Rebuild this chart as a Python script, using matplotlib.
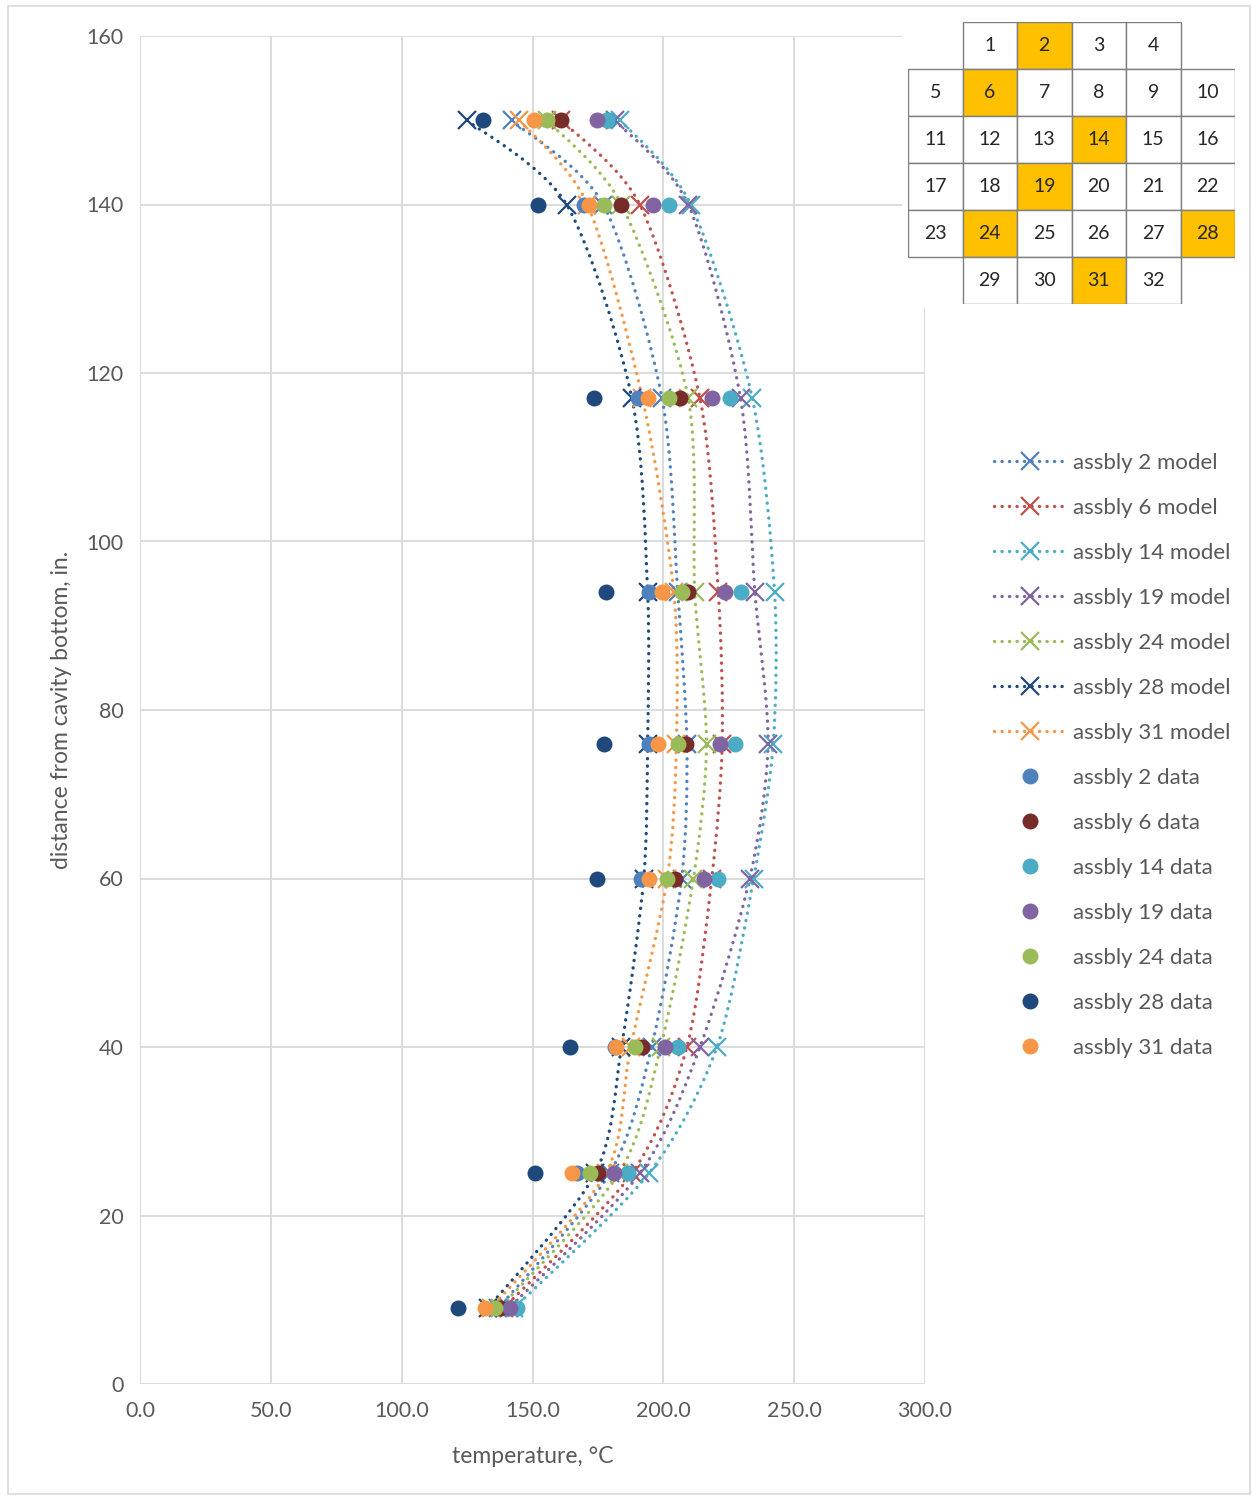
import matplotlib
matplotlib.use("Agg")
import matplotlib.pyplot as plt
from matplotlib.path import Path
from matplotlib.patches import PathPatch, Rectangle
from matplotlib.lines import Line2D

plt.rcParams['font.family'] = ['Lato', 'DejaVu Sans']

# distance from cavity bottom (in.)
heights = [150, 140, 117, 94, 76, 60, 40, 25, 9]

assemblies = ['2', '6', '14', '19', '24', '28', '31']

model_2 = [142, 177, 199.5, 205.5, 209, 207, 195.5, 179.5, 137]
model_6 = [161, 191, 214, 221, 222.5, 218.5, 209, 188, 139]
model_14 = [183.5, 210.5, 234, 242.5, 242, 234.5, 220.5, 194.5, 143]
model_19 = [181.5, 209.5, 229.5, 235, 240, 233, 214, 191, 141]
model_24 = [155.5, 184, 209.5, 212, 216.5, 211.5, 199, 183, 137.5]
model_28 = [125, 163, 188, 194, 194, 192.5, 184, 174, 133]
model_31 = [145, 171, 192, 204, 205, 201.5, 187.5, 178, 134]

data_2 = [179, 169.5, 190.5, 194.5, 194.5, 191.5, 181.5, 167, 140]
data_6 = [161, 184, 206.5, 209.5, 208.5, 204.5, 192, 175, 137.5]
data_14 = [178.5, 202, 225.5, 229.5, 227.5, 221, 205.5, 186.5, 144]
data_19 = [174.5, 196, 218.5, 223.5, 221.5, 215.5, 200.5, 181, 141.5]
data_24 = [155.5, 177.5, 202, 207, 205.5, 201.5, 189, 172, 135.5]
data_28 = [131, 152, 173.5, 178, 177.5, 174.5, 164.5, 151, 121.5]
data_31 = [150.5, 171.5, 194, 199.5, 198, 194.5, 182, 165, 132]

models = [model_2, model_6, model_14, model_19, model_24, model_28, model_31]
datas = [data_2, data_6, data_14, data_19, data_24, data_28, data_31]

model_colors = ['#4F81BD', '#C0504D', '#4BACC6', '#8064A2', '#9BBB59', '#1F497D', '#F79646']
data_colors = ['#4F81BD', '#772C2A', '#4BACC6', '#8064A2', '#9BBB59', '#1F497D', '#F79646']

# core map (row by row), highlighted assemblies
core_rows = [[1, 2, 3, 4], [5, 6, 7, 8, 9, 10], [11, 12, 13, 14, 15, 16],
             [17, 18, 19, 20, 21, 22], [23, 24, 25, 26, 27, 28], [29, 30, 31, 32]]
highlight = [2, 6, 14, 19, 24, 28, 31]

TXT = '#595959'
GRID = '#D9D9D9'


def smooth_path(xs, ys, k=0.14):
    # excel-like smoothed line: catmull-rom segments as cubic bezier
    pts = list(zip(xs, ys))
    n = len(pts)
    verts = [pts[0]]
    codes = [Path.MOVETO]
    for i in range(n - 1):
        p0 = pts[i - 1] if i > 0 else pts[i]
        p1 = pts[i]
        p2 = pts[i + 1]
        p3 = pts[i + 2] if i + 2 < n else pts[i + 1]
        c1 = (p1[0] + (p2[0] - p0[0]) * k, p1[1] + (p2[1] - p0[1]) * k)
        c2 = (p2[0] - (p3[0] - p1[0]) * k, p2[1] - (p3[1] - p1[1]) * k)
        verts += [c1, c2, p2]
        codes += [Path.CURVE4] * 3
    return Path(verts, codes)


W, H = 1252, 1496
fig = plt.figure(figsize=(W / 100, H / 100), dpi=100)
ax = fig.add_axes([140 / W, 1 - 1384 / H, (925 - 140) / W, (1384 - 36) / H])

LW = 2.4
dots = (0, (0.05, 2.2))
for name, vals, col in zip(assemblies, models, model_colors):
    patch = PathPatch(smooth_path(vals, heights), fill=False, edgecolor=col,
                      lw=LW, linestyle=dots, capstyle='round', zorder=3)
    ax.add_patch(patch)
    ax.plot(vals, heights, ls='none', marker='x', ms=13, mew=1.6, color=col, zorder=4)

for name, vals, col in zip(assemblies, datas, data_colors):
    ax.plot(vals, heights, ls='none', marker='o', ms=11.5, color=col, mew=0, zorder=5)

ax.set_xlim(0, 300)
ax.set_ylim(0, 160)
ax.set_xticks(range(0, 301, 50))
ax.set_xticklabels(['%.1f' % v for v in range(0, 301, 50)])
ax.set_yticks(range(0, 161, 20))
ax.tick_params(length=0, labelsize=15.5, labelcolor=TXT, pad=12)
ax.grid(True, color=GRID, lw=1.3)
ax.set_axisbelow(True)
for s in ax.spines.values():
    s.set_visible(False)
ax.set_xlabel('temperature, °C', fontsize=16.5, color=TXT, labelpad=18)
ax.set_ylabel('distance from cavity bottom, in.', fontsize=16.5, color=TXT, labelpad=10)

# legend
handles = []
labels = []
for name, col in zip(assemblies, model_colors):
    handles.append(Line2D([], [], color=col, lw=LW, linestyle=dots, dash_capstyle='round',
                          marker='x', ms=13, mew=1.6))
    labels.append('assbly %s model' % name)
for name, col in zip(assemblies, data_colors):
    handles.append(Line2D([], [], color=col, ls='none', marker='o', ms=11.5, mew=0))
    labels.append('assbly %s data' % name)
leg = fig.legend(handles, labels, loc='upper left', bbox_to_anchor=(994 / W, 1 - 453 / H),
                 frameon=False, fontsize=16, handlelength=3.2, labelspacing=1.125,
                 handletextpad=0.35, borderaxespad=0, borderpad=0)
for t in leg.get_texts():
    t.set_color(TXT)

# white background of the core map picture
fig.add_artist(Rectangle((902 / W, 1 - 308 / H), (1242 - 902) / W, (308 - 14) / H,
                         transform=fig.transFigure, facecolor='white', edgecolor='none', zorder=1))

tab = fig.add_axes([908 / W, 1 - 304 / H, (1235 - 908) / W, (304 - 22) / H], zorder=2)
tab.set_xlim(0, 6)
tab.set_ylim(6, 0)
tab.axis('off')
for r, row in enumerate(core_rows):
    start = (6 - len(row)) // 2
    for c, num in enumerate(row):
        x = start + c
        fc = '#FFC000' if num in highlight else 'white'
        tab.add_patch(Rectangle((x, r), 1, 1, facecolor=fc, edgecolor='#7F7F7F', lw=1.0))
        tab.text(x + 0.5, r + 0.5, str(num), ha='center', va='center', fontsize=14, color='#262626')

# chart area border
fig.add_artist(Rectangle((8 / W, 2 / H), (W - 10) / W, (H - 8) / H, transform=fig.transFigure,
                         facecolor='none', edgecolor=GRID, lw=1.2, zorder=0))

fig.savefig('out.png', dpi=100)
